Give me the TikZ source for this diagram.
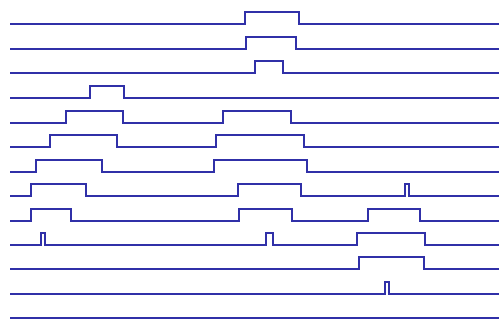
\documentclass[tikz,border=0pt]{standalone}
\usepackage{tikz}
\definecolor{waveblue}{RGB}{48,48,168}

\begin{document}
\begin{tikzpicture}[x=1pt, y=-1pt,
    wave/.style={draw=waveblue, line width=2pt, line join=miter}
]
\useasboundingbox (0,0) rectangle (499,322);
% baseline y / pulse edges (rise/fall)
\foreach \y/\pl in {24/{245/299}, 49/{246/296}, 73/{255/283},
    98/{90/124}, 123/{66/123,223/291}, 147/{50/117,216/304},
    172/{36/102,214/307}, 196/{31/86,238/301,405/409},
    221/{31/71,239/292,368/420}, 245/{41/45,266/273,357/425},
    269/{359/424}, 294/{385/389}}
  \draw[wave] (10,\y) foreach \a/\b in \pl {-| (\a,\y-12) -| (\b,\y)}
        -- (499,\y);
\draw[wave] (10,318) -- (499,318);
\end{tikzpicture}
\end{document}
